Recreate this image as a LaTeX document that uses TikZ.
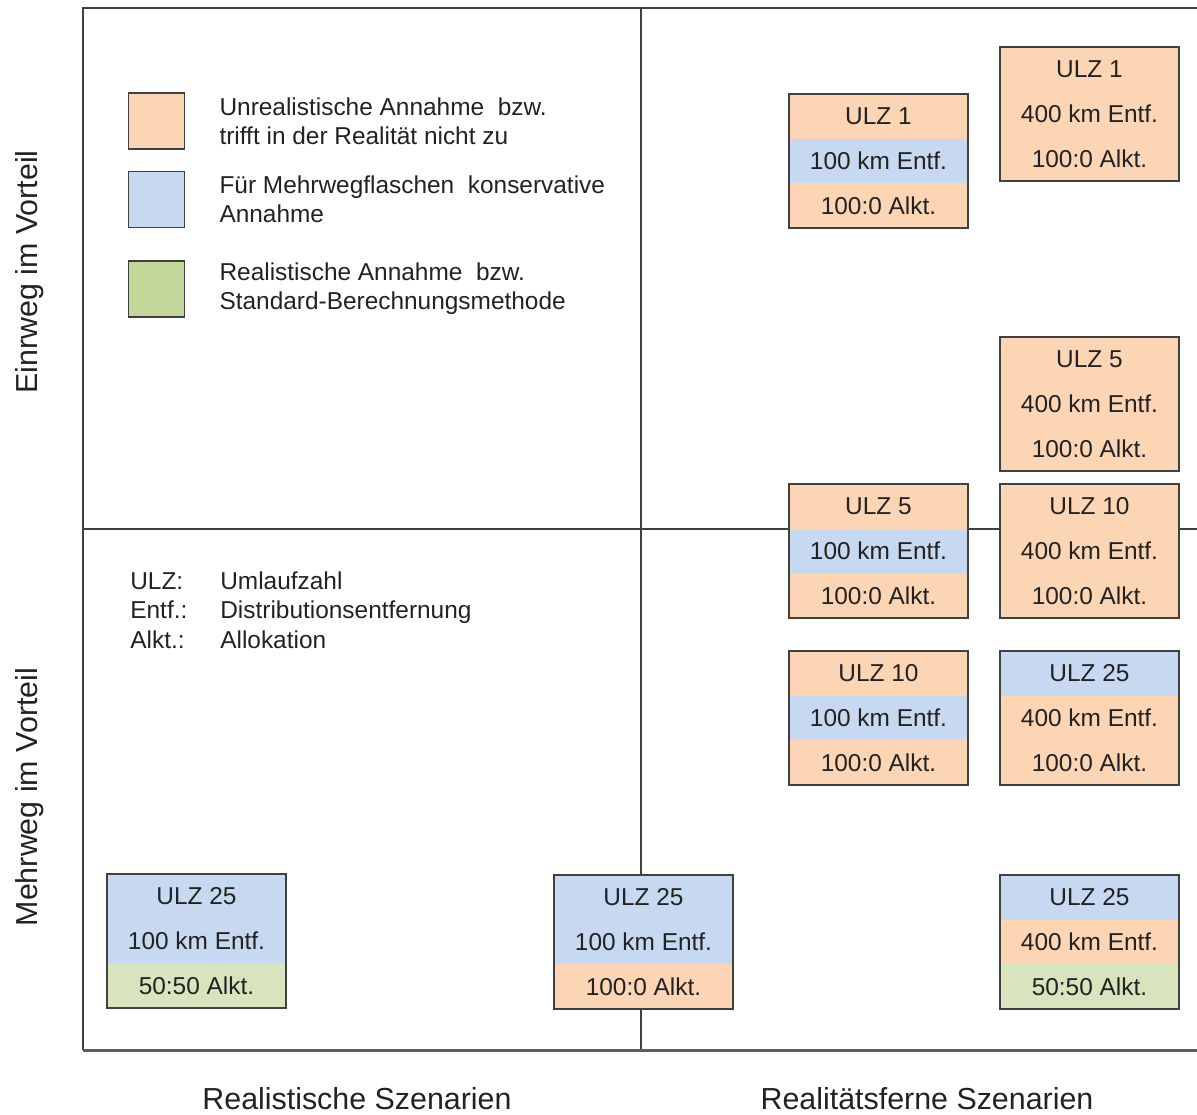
\documentclass[tikz,border=0pt]{standalone}
\usepackage{fontspec}
\setmainfont{Liberation Sans}
\usepackage{xcolor}
\usetikzlibrary{positioning}

\definecolor{peach}{HTML}{FCD5B5}
\definecolor{sky}{HTML}{C6D9F1}
\definecolor{sage}{HTML}{D7E4BD}
\definecolor{sagekey}{HTML}{C4D79B}
\definecolor{linegray}{HTML}{404040}
\definecolor{textgray}{HTML}{222222}

\begin{document}
\begin{tikzpicture}[x=0.02cm, y=-0.02cm,
    every node/.style={text=textgray},
    font=\fontsize{13.9}{16.7}\selectfont,
    cell/.style={rectangle, minimum width=3.58cm, minimum height=0.894cm, inner sep=0pt, outer sep=0pt},
    boxline/.style={draw=linegray, line width=0.8pt},
    frame/.style={draw=linegray, line width=0.8pt},
    bottomrule/.style={draw=linegray!85, line width=1.7pt},
    keybox/.style={rectangle, draw=linegray, line width=0.8pt, minimum size=1.12cm, inner sep=0pt},
    keytext/.style={anchor=west, align=left, inner sep=0pt},
    axislabel/.style={inner sep=0pt, font=\fontsize{17.3}{20}\selectfont}]
    \useasboundingbox (0,0) rectangle (1197,1115);

    % Frame and quadrant lines
    \coordinate (tl) at (83,8);
    \coordinate (tr) at (1197,8);
    \coordinate (bl) at (83,1050);
    \coordinate (br) at (1197,1050);
    \coordinate (tm) at (641,8);
    \coordinate (bm) at (641,1050);
    \coordinate (ml) at (83,529);
    \coordinate (mr) at (1197,529);
    \draw[frame] (tr) -- (tl) -- (bl);
    \draw[frame] (tm) -- (bm);
    \draw[frame] (ml) -- (mr);
    \draw[bottomrule] (bl) -- (br);

    % Legend
    \node[keybox, fill=peach] (sqU) at (156.5,121) {};
    \node[keybox, fill=sky] (sqK) at (156.5,199.5) {};
    \node[keybox, fill=sagekey] (sqR) at (156.5,289) {};
    \node[keytext, right=0.68cm of sqU] (txtU) {Unrealistische Annahme\ \ bzw.\\trifft in der Realität nicht zu};
    \node[keytext, right=0.68cm of sqK] (txtK) {Für Mehrwegflaschen\ \ konservative\\Annahme};
    \node[keytext, right=0.68cm of sqR] (txtR) {Realistische Annahme\ \ bzw.\\Standard-Berechnungsmethode};

    % Abbreviations
    \node[anchor=west, inner sep=0pt] (abbr) at (130,613) {%
        \begin{tabular}{@{}p{1.8cm}@{}l@{}}
        ULZ: & Umlaufzahl\\
        Entf.: & Distributionsentfernung\\
        Alkt.: & Allokation
        \end{tabular}};

    % Scenario boxes (three rows each)
    \foreach \nm/\x/\y/\ca/\cb/\cc/\ulz/\km/\alk in {
        a/789/94/peach/sky/peach/1/100/100:0,
        b/1000/47/peach/peach/peach/1/400/100:0,
        c/1000/337/peach/peach/peach/5/400/100:0,
        d/789/484/peach/sky/peach/5/100/100:0,
        e/1000/484/peach/peach/peach/10/400/100:0,
        f/789/651/peach/sky/peach/10/100/100:0,
        g/1000/651/sky/peach/peach/25/400/100:0,
        h/107/874/sky/sky/sage/25/100/50:50,
        i/554/875/sky/sky/peach/25/100/100:0,
        j/1000/875/sky/peach/sage/25/400/50:50} {
        \node[cell, fill=\ca, anchor=north west] (\nm1) at (\x,\y) {ULZ \ulz};
        \node[cell, fill=\cb, below=0pt of \nm1] (\nm2) {\km{} km Entf.};
        \node[cell, fill=\cc, below=0pt of \nm2] (\nm3) {\alk{} Alkt.};
        \draw[boxline] (\nm1.north west) rectangle (\nm3.south east);
    }

    % Axis labels
    \node[axislabel, rotate=90] (einweg) at (30,272) {Einrweg im Vorteil};
    \node[axislabel, rotate=90] (mehrweg) at (30,797) {Mehrweg im Vorteil};
    \node[axislabel] (realist) at (357,1099) {Realistische Szenarien};
    \node[axislabel] (fern) at (927,1099) {Realitätsferne Szenarien};
\end{tikzpicture}
\end{document}
